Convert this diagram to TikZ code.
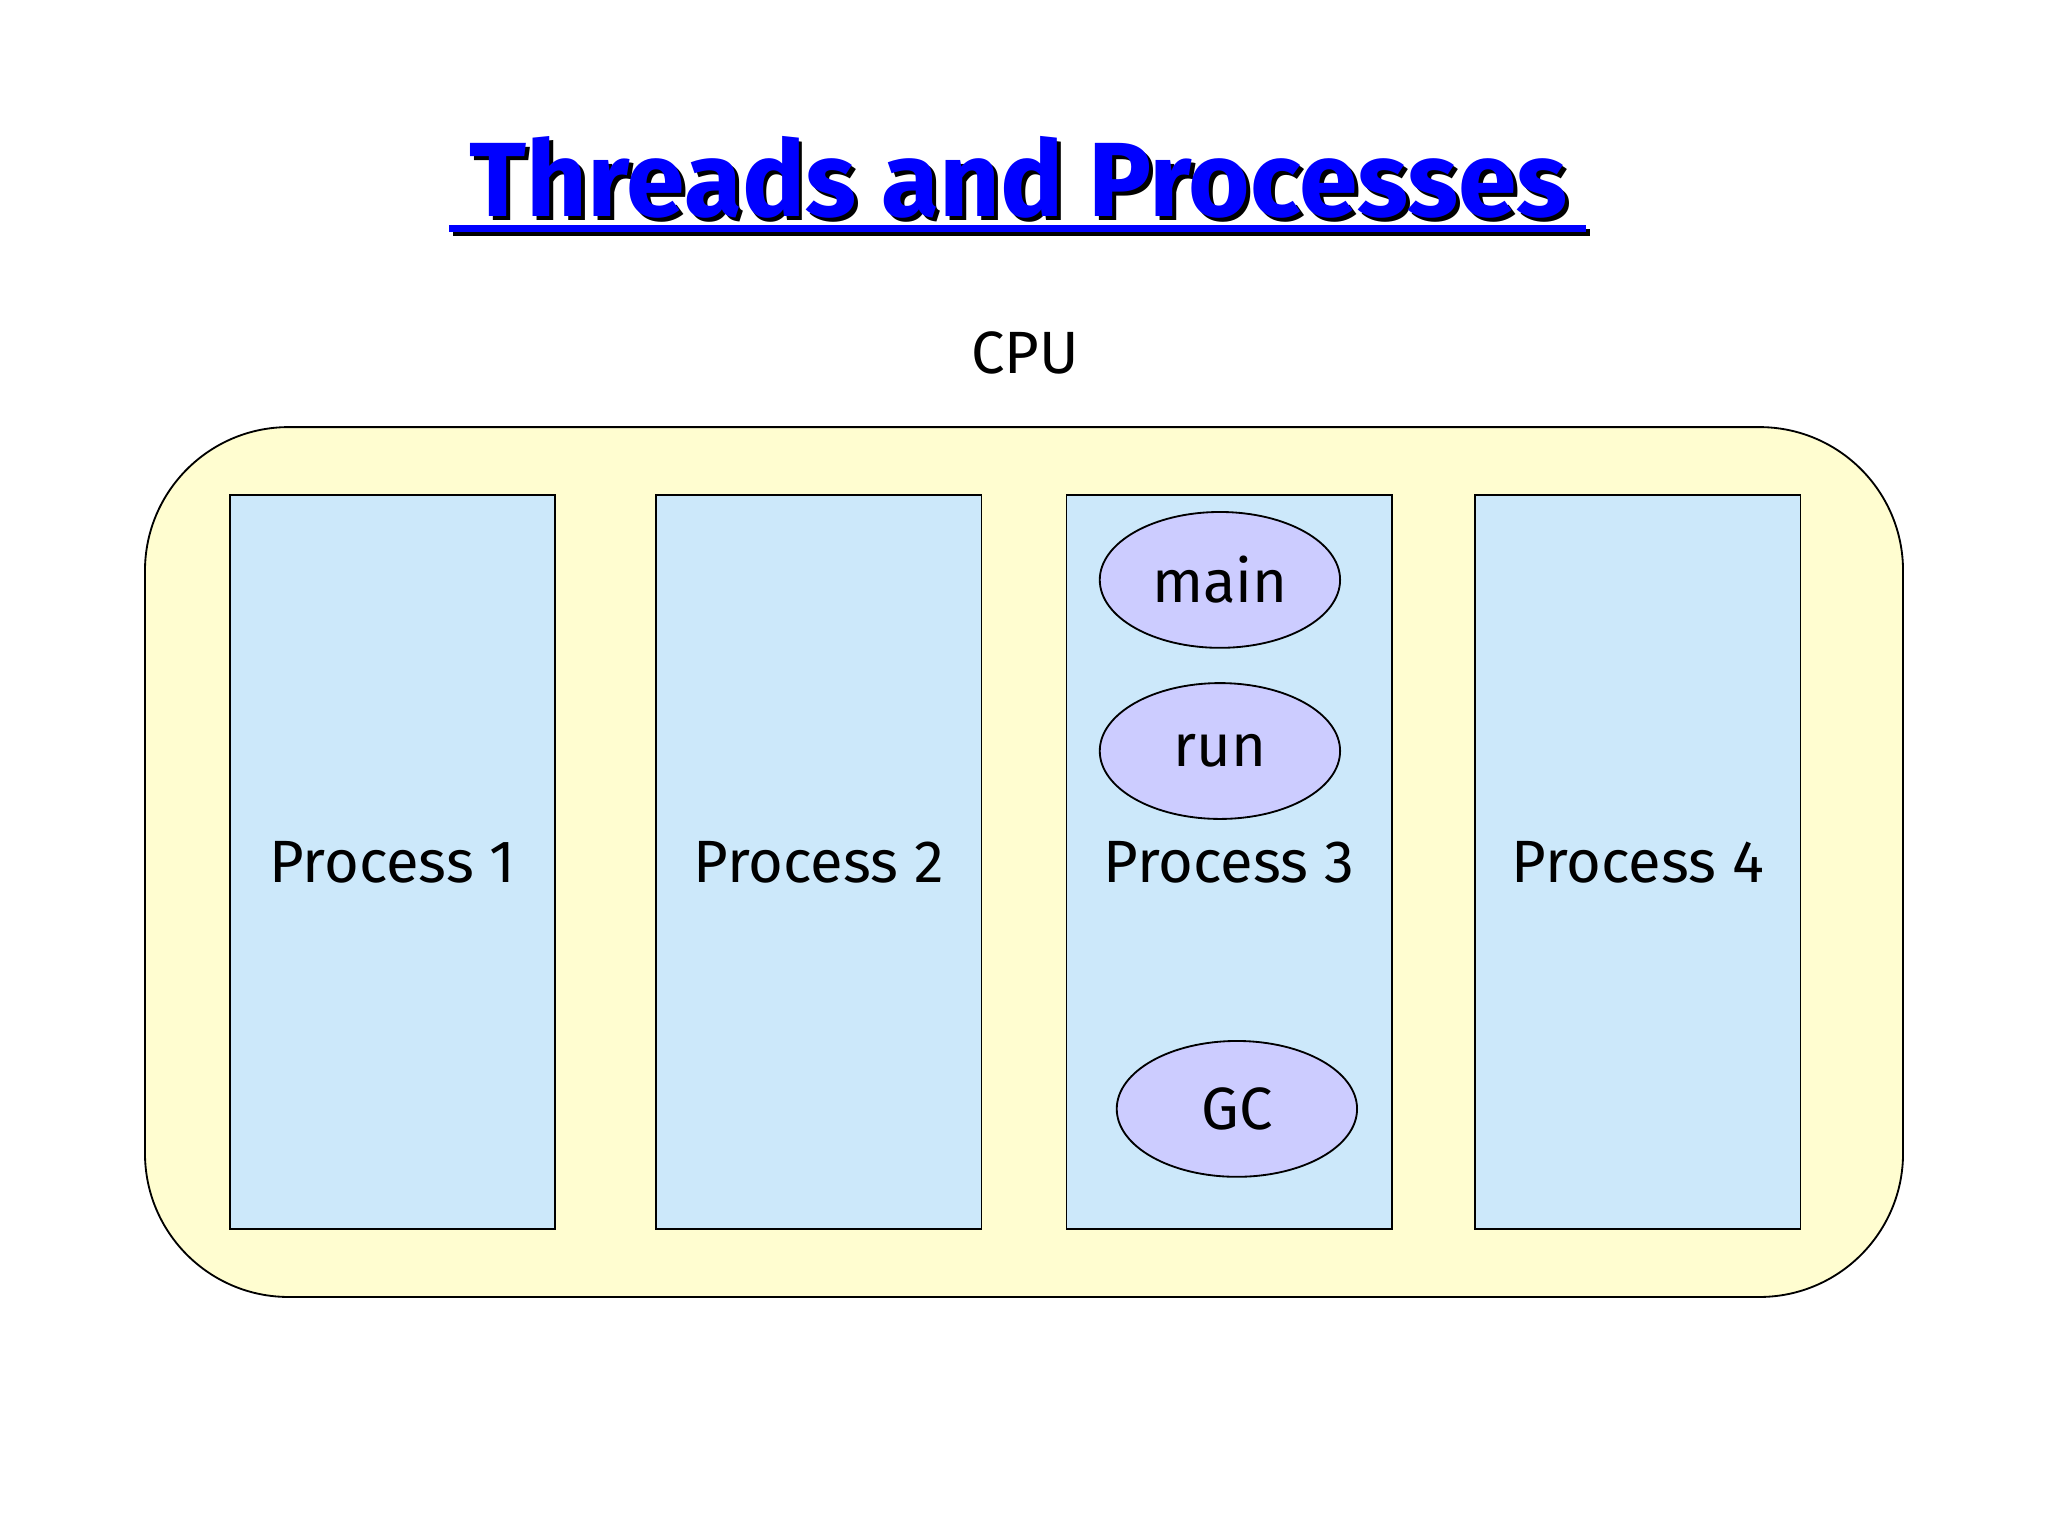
\documentclass[tikz,border=0pt]{standalone}
\usepackage{fontspec}
\setmainfont{Fira Sans}
\usetikzlibrary{positioning, shapes.geometric}
\definecolor{cpuyellow}{HTML}{FFFDD0}
\definecolor{procblue}{HTML}{CCE8FA}
\definecolor{threadlilac}{HTML}{CCCCFF}
\begin{document}
\begin{tikzpicture}[]
        \tikzset{
            process/.style={draw, fill=procblue, minimum width=2.49cm, minimum height=5.62cm, font=\fontsize{13}{16}\selectfont}, % each process box
            thread/.style={ellipse, draw, fill=threadlilac, inner sep=0pt, minimum width=1.84cm, minimum height=1.04cm, font=\fontsize{13}{16}\selectfont}, % each thread
            }
        \useasboundingbox (0,0) rectangle (15.68,-11.76);

        % title and cpu
        \node[font=\fontsize{23}{28}\bfseries\selectfont] (title_shadow) at (7.83,-1.39) {Threads and Processes};
        \node[text=blue, font=\fontsize{23}{28}\bfseries\selectfont] (title) at (7.80,-1.36) {Threads and Processes};
        \draw[black, line width=1.5pt] (3.47,-1.78) -- (12.17,-1.78);
        \draw[blue, line width=1.5pt] (3.44,-1.75) -- (12.14,-1.75);
        \node[font=\fontsize{13}{16}\selectfont] (cpu_label) at (7.85,-2.70) {CPU};
        \draw[fill=cpuyellow, rounded corners=1.1cm] (1.11,-3.27) rectangle (14.57,-9.93);

        % processes
        \node[process] (process_1) at (3.005,-6.60) {Process 1};
        \node[process] (process_2) at (6.27,-6.60) {Process 2};
        \node[process] (process_3) at (9.41,-6.60) {Process 3};
        \node[process] (process_4) at (12.54,-6.60) {Process 4};

        % threads of process 3
        \node[thread] (main_thread) at (9.34,-4.44) {main};
        \node[thread] (run_thread) at (9.34,-5.75) {run};
        \node[thread] (gc_thread) at (9.47,-8.49) {GC};
    \end{tikzpicture}
\end{document}
